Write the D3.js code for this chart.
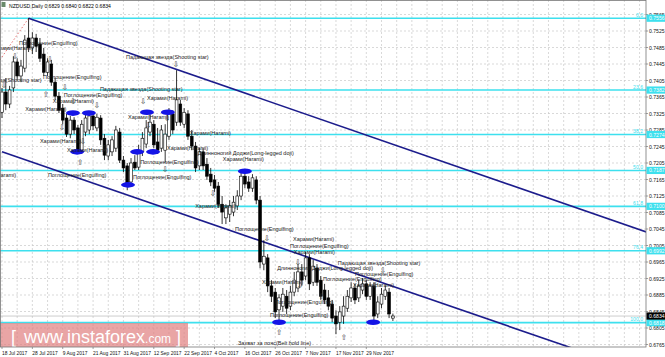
<!DOCTYPE html>
<html>
<head>
<meta charset="utf-8">
<script src="https://cdn.jsdelivr.net/npm/d3@7"></script>
<style>
  body { margin: 0; background: #fff; }
  svg { display: block; font-family: "Liberation Sans", Arial, sans-serif; }
</style>
</head>
<body>
<svg id="chart" width="665" height="357"></svg>
<script>
// NZDUSD daily, 18 Jul 2017 .. 8 Dec 2017 (one entry per bar)
const opens = [0.7328,0.7377,0.7348,0.7387,0.7450,0.7416,0.7435,0.7508,0.7484,0.7508,
  0.7493,0.7469,0.7425,0.7445,0.7401,0.7367,0.7338,0.7314,0.7275,0.7309,
  0.7290,0.7236,0.7280,0.7285,0.7319,0.7290,0.7314,0.7265,0.7222,0.7232,
  0.7241,0.7280,0.7212,0.7198,0.7159,0.7207,0.7195,0.7232,0.7251,0.7280,
  0.7299,0.7256,0.7241,0.7236,0.7270,0.7324,0.7304,0.7348,0.7299,0.7324,
  0.7270,0.7246,0.7198,0.7232,0.7202,0.7178,0.7164,0.7149,0.7105,0.7072,
  0.7081,0.7086,0.7101,0.7125,0.7173,0.7159,0.7144,0.7164,0.7115,0.6960,
  0.6975,0.6907,0.6892,0.6849,0.6858,0.6882,0.6858,0.6892,0.6902,0.6941,
  0.6931,0.6975,0.6916,0.6950,0.6921,0.6897,0.6878,0.6863,0.6834,0.6819,
  0.6834,0.6853,0.6878,0.6902,0.6878,0.6897,0.6912,0.6882,0.6907,0.6839,
  0.6863,0.6882,0.6892,0.6829];
const highs = [0.7387,0.7411,0.7392,0.7464,0.7459,0.7455,0.7515,0.7556,0.7522,0.7518,
  0.7508,0.7484,0.7459,0.7455,0.7411,0.7377,0.7348,0.7324,0.7319,0.7316,
  0.7297,0.7309,0.7324,0.7328,0.7326,0.7324,0.7321,0.7275,0.7261,0.7270,
  0.7295,0.7290,0.7222,0.7205,0.7217,0.7224,0.7249,0.7280,0.7309,0.7328,
  0.7309,0.7290,0.7297,0.7299,0.7338,0.7333,0.7430,0.7358,0.7338,0.7333,
  0.7285,0.7256,0.7241,0.7241,0.7217,0.7193,0.7176,0.7159,0.7125,0.7105,
  0.7115,0.7125,0.7139,0.7183,0.7188,0.7173,0.7178,0.7173,0.7125,0.7018,
  0.6984,0.6921,0.6902,0.6887,0.6902,0.6897,0.6907,0.6941,0.6960,0.6960,
  0.6989,0.6984,0.6970,0.6960,0.6931,0.6912,0.6897,0.6873,0.6848,0.6858,
  0.6882,0.6897,0.6916,0.6912,0.6921,0.6926,0.6921,0.6916,0.6916,0.6882,
  0.6902,0.6907,0.6902,0.6840];
const lows = [0.7314,0.7333,0.7338,0.7377,0.7406,0.7401,0.7425,0.7474,0.7469,0.7474,
  0.7450,0.7416,0.7416,0.7392,0.7358,0.7326,0.7299,0.7268,0.7265,0.7275,
  0.7227,0.7227,0.7270,0.7275,0.7285,0.7282,0.7249,0.7212,0.7212,0.7222,
  0.7232,0.7205,0.7183,0.7139,0.7149,0.7188,0.7188,0.7222,0.7241,0.7270,
  0.7241,0.7227,0.7232,0.7207,0.7261,0.7275,0.7295,0.7295,0.7290,0.7261,
  0.7236,0.7183,0.7188,0.7188,0.7164,0.7149,0.7135,0.7096,0.7057,0.7057,
  0.7062,0.7076,0.7091,0.7115,0.7144,0.7135,0.7135,0.7105,0.6950,0.6945,
  0.6892,0.6868,0.6829,0.6819,0.6844,0.6839,0.6848,0.6882,0.6892,0.6907,
  0.6921,0.6897,0.6907,0.6907,0.6873,0.6863,0.6848,0.6819,0.6790,0.6800,
  0.6815,0.6844,0.6868,0.6863,0.6868,0.6887,0.6873,0.6873,0.6819,0.6829,
  0.6853,0.6873,0.6829,0.6822];
const closes = [0.7377,0.7348,0.7382,0.7450,0.7416,0.7440,0.7503,0.7484,0.7508,0.7488,
  0.7459,0.7425,0.7450,0.7401,0.7367,0.7333,0.7309,0.7275,0.7309,0.7285,
  0.7236,0.7299,0.7314,0.7319,0.7295,0.7316,0.7261,0.7224,0.7249,0.7261,
  0.7285,0.7212,0.7193,0.7154,0.7205,0.7193,0.7236,0.7265,0.7290,0.7304,
  0.7249,0.7236,0.7285,0.7275,0.7324,0.7285,0.7358,0.7304,0.7328,0.7270,
  0.7246,0.7193,0.7232,0.7198,0.7173,0.7159,0.7144,0.7105,0.7086,0.7096,
  0.7101,0.7110,0.7125,0.7173,0.7154,0.7144,0.7169,0.7115,0.6965,0.6979,
  0.6907,0.6882,0.6844,0.6878,0.6887,0.6853,0.6892,0.6921,0.6941,0.6921,
  0.6975,0.6912,0.6955,0.6916,0.6882,0.6873,0.6858,0.6829,0.6815,0.6844,
  0.6858,0.6882,0.6902,0.6873,0.6907,0.6912,0.6882,0.6907,0.6834,0.6868,
  0.6887,0.6897,0.6839,0.6834];

const dateIdx = [0, 8, 16, 24, 32, 40, 48, 56, 64, 72, 80, 88, 96];
const dateLabels = ["18 Jul 2017", "28 Jul 2017", "9 Aug 2017", "21 Aug 2017", "31 Aug 2017",
  "12 Sep 2017", "22 Sep 2017", "4 Oct 2017", "16 Oct 2017", "26 Oct 2017",
  "7 Nov 2017", "17 Nov 2017", "29 Nov 2017"];
const priceTicks = [0.7565, 0.7525, 0.7485, 0.7445, 0.7405, 0.7365, 0.7325, 0.7285, 0.7245,
  0.7205, 0.7165, 0.7125, 0.7085, 0.7045, 0.7005, 0.6965, 0.6925, 0.6885, 0.6845, 0.6805, 0.6765];

// fibonacci retracement, drawn from the May low to the July high
const fibLevels = [0, 23.6, 38.2, 50.0, 61.8, 76.4, 100.0];
const fibHigh = 0.7556;
const fibLow = 0.6818;
const fibBase = [[-48, 0.6818], [7, 0.7556]];

// descending channel, [bar, price]
const upperLine = [[7, 0.7556], [170, 0.7037]];
const lowerLine = [[0, 0.7232], [150, 0.6757]];

// blue marks, [bar, price]
const ellipses = [[18.7, 0.7326], [22.9, 0.7326], [19.8, 0.7232], [33.2, 0.7152], [35.6, 0.7232],
  [39.8, 0.7232], [38.2, 0.7328], [43.7, 0.7328], [64.0, 0.7185], [73.0, 0.6819], [97.8, 0.6819]];

// candle pattern captions, [bar, price, text]
const patternText = [
  [-2.6, 0.7479, "Харами(Harami)"],
  [4.5, 0.7491, "Поглощение(Engulfing)"],
  [-11.3, 0.7401, "Падающая звезда(Shooting star)"],
  [10.8, 0.7408, "Поглощение(Engulfing)"],
  [16.3, 0.7365, "Поглощение(Engulfing)"],
  [13.4, 0.7350, "Харами(Harami)"],
  [6.1, 0.7331, "Харами(Harami)"],
  [10.0, 0.7253, "Харами(Harami)"],
  [17.1, 0.7232, "Харами(Harami)"],
  [12.1, 0.7171, "Поглощение(Engulfing)"],
  [-7.1, 0.7171, "Харами(Harami)"],
  [32.7, 0.7457, "Падающая звезда(Shooting star)"],
  [25.8, 0.7379, "Падающая звезда(Shooting star)"],
  [38.2, 0.7358, "Харами(Harami)"],
  [33.2, 0.7312, "Харами(Harami)"],
  [49.5, 0.7273, "Харами(Harami)"],
  [43.5, 0.7236, "Харами(Harami)"],
  [36.4, 0.7202, "Поглощение(Engulfing)"],
  [34.5, 0.7166, "Поглощение(Engulfing)"],
  [51.6, 0.7224, "Длинноногий Доджи(Long-legged doji)"],
  [58.2, 0.7210, "Харами(Harami)"],
  [50.9, 0.7096, "Харами(Harami)"],
  [61.4, 0.7040, "Поглощение(Engulfing)"],
  [76.7, 0.7016, "Харами(Harami)"],
  [75.9, 0.6999, "Поглощение(Engulfing)"],
  [76.9, 0.6984, "Харами(Harami)"],
  [72.5, 0.6945, "Длинноногий Доджи(Long-legged doji)"],
  [68.5, 0.6912, "Харами(Harami)"],
  [71.9, 0.6863, "Поглощение(Engulfing)"],
  [70.6, 0.6832, "Поглощение(Engulfing)"],
  [88.5, 0.6958, "Падающая звезда(Shooting star)"],
  [93.0, 0.6931, "Поглощение(Engulfing)"],
  [84.6, 0.6919, "Поглощение(Engulfing)"],
  [92.5, 0.6904, "Харами(Harami)"],
  [62.2, 0.6764, "Захват за пояс(Belt hold line)"]
];

// pattern arrows, [bar, price, glyph]
const arrows = [
  [3.4, 0.7464, "⇩"], [12.6, 0.7457, "⇩"], [0.5, 0.7392, "⇩"], [16.6, 0.7387, "⇩"],
  [11.6, 0.7370, "⇧"], [18.7, 0.7353, "⇩"], [25.0, 0.7345, "⇩"], [15.8, 0.7292, "⇩"],
  [21.3, 0.7256, "⇩"], [20.6, 0.7207, "⇧"], [45.8, 0.7445, "⇩"], [37.2, 0.7355, "⇩"],
  [38.5, 0.7297, "⇩"], [43.5, 0.7314, "⇩"], [26.9, 0.7241, "⇩"], [43.0, 0.7190, "⇩"],
  [55.6, 0.7132, "⇩"], [69.8, 0.7023, "⇩"], [78.0, 0.6965, "⇩"], [78.5, 0.6909, "⇩"],
  [73.0, 0.6793, "⇧"], [90.1, 0.6781, "⇧"], [100.4, 0.6945, "⇩"], [84.1, 0.6882, "⇧"],
  [98.3, 0.6909, "⇩"]
];

const lastPrice = 0.6834;
const header = "NZDUSD,Daily  0.6829 0.6840 0.6822 0.6834";

const plotRight = 646;
const plotBottom = 347;
const fs = 5.5;
const axisFs = 5.1;

const x = d3.scaleLinear().domain([0, 103]).range([2, 2 + 103 * 3.795]);
const y = d3.scaleLinear().domain([0.6765, 0.7565]).range([344.5, 14.5]);

const svg = d3.select("#chart");

svg.append("defs").append("clipPath").attr("id", "plot")
  .append("rect").attr("x", 0).attr("y", 0).attr("width", plotRight).attr("height", plotBottom);

const plot = svg.append("g").attr("clip-path", "url(#plot)");

// grid
plot.selectAll(".hg").data(priceTicks).enter().append("line")
  .attr("x1", 0).attr("x2", plotRight)
  .attr("y1", d => y(d)).attr("y2", d => y(d))
  .attr("stroke", "#c8c8c8").attr("stroke-width", 0.7).attr("stroke-dasharray", "2,2");
plot.selectAll(".vg").data(d3.range(0, 172, 4)).enter().append("line")
  .attr("x1", d => x(d)).attr("x2", d => x(d))
  .attr("y1", 0).attr("y2", plotBottom)
  .attr("stroke", "#c8c8c8").attr("stroke-width", 0.7).attr("stroke-dasharray", "2,2");

// watermark
svg.append("rect").attr("x", 0).attr("y", 323).attr("width", 188).attr("height", plotBottom - 323)
  .attr("fill", "#df7f7f").attr("opacity", 0.7);
const wm = svg.append("text").attr("y", 343).attr("fill", "#fff");
wm.append("tspan").attr("x", 11).attr("font-size", 18).text("[");
wm.append("tspan").attr("x", 24).attr("font-size", 18).text("www.instaforex");
wm.append("tspan").attr("font-size", 12).text(".com");
wm.append("tspan").attr("x", 176).attr("font-size", 18).text("]");

// fibonacci levels
const fibPrice = lv => fibHigh - lv / 100 * (fibHigh - fibLow);
plot.selectAll(".fib").data(fibLevels).enter().append("line")
  .attr("x1", 0).attr("x2", plotRight)
  .attr("y1", d => y(fibPrice(d))).attr("y2", d => y(fibPrice(d)))
  .attr("stroke", "#3de0ee").attr("stroke-width", 1.6);
plot.selectAll(".fibt").data(fibLevels).enter().append("text")
  .attr("x", plotRight - 3).attr("y", d => y(fibPrice(d)) - 1.5)
  .attr("text-anchor", "end").attr("font-size", axisFs).attr("fill", "#3de0ee")
  .text(d => d.toFixed(1));

// current bid line
plot.append("line").attr("x1", 0).attr("x2", plotRight)
  .attr("y1", y(lastPrice)).attr("y2", y(lastPrice))
  .attr("stroke", "#b8b8b8").attr("stroke-width", 0.7);

// fib base and channel
plot.append("line")
  .attr("x1", x(fibBase[0][0])).attr("y1", y(fibBase[0][1]))
  .attr("x2", x(fibBase[1][0])).attr("y2", y(fibBase[1][1]))
  .attr("stroke", "#e05050").attr("stroke-width", 0.8).attr("stroke-dasharray", "1.5,2");
[upperLine, lowerLine].forEach(l => {
  plot.append("line")
    .attr("x1", x(l[0][0])).attr("y1", y(l[0][1]))
    .attr("x2", x(l[1][0])).attr("y2", y(l[1][1]))
    .attr("stroke", "#1c1c8c").attr("stroke-width", 1.6);
});

// candles
const bars = opens.map((o, i) => ({ i, o, h: highs[i], l: lows[i], c: closes[i] }));
const cg = plot.selectAll(".candle").data(bars).enter().append("g");
cg.append("line")
  .attr("x1", d => x(d.i)).attr("x2", d => x(d.i))
  .attr("y1", d => y(d.h)).attr("y2", d => y(d.l))
  .attr("stroke", "#000").attr("stroke-width", 0.8);
cg.append("rect")
  .attr("x", d => x(d.i) - 1.4).attr("width", 2.8)
  .attr("y", d => y(Math.max(d.o, d.c)))
  .attr("height", d => Math.max(0.8, Math.abs(y(d.o) - y(d.c))))
  .attr("fill", d => d.c >= d.o ? "#fff" : "#000")
  .attr("stroke", "#000").attr("stroke-width", 0.6);

// blue marks
plot.selectAll(".ell").data(ellipses).enter().append("ellipse")
  .attr("cx", d => x(d[0])).attr("cy", d => y(d[1]))
  .attr("rx", 7).attr("ry", 2.8).attr("fill", "#1414e6");

// pattern captions and arrows
plot.selectAll(".pt").data(patternText).enter().append("text")
  .attr("x", d => x(d[0])).attr("y", d => y(d[1]))
  .attr("font-size", fs).attr("fill", "#1a1a1a")
  .text(d => d[2]);
plot.selectAll(".ar").data(arrows).enter().append("text")
  .attr("x", d => x(d[0])).attr("y", d => y(d[1]) + 2.5)
  .attr("text-anchor", "middle").attr("font-size", 7.5)
  .attr("font-family", "DejaVu Sans").attr("fill", "#333")
  .text(d => d[2]);

// header
svg.append("path").attr("d", "M1.5,2 h4 v5 h-4 z").attr("fill", "#6a8a6a");
svg.append("text").attr("x", 9).attr("y", 8).attr("font-size", axisFs).attr("fill", "#000").text(header);

// frame
svg.append("rect").attr("x", 0.5).attr("y", 0.5).attr("width", plotRight - 0.5).attr("height", plotBottom - 0.5)
  .attr("fill", "none").attr("stroke", "#777").attr("stroke-width", 0.8);

// price axis
svg.selectAll(".pl").data(priceTicks).enter().append("text")
  .attr("x", plotRight + 3).attr("y", d => y(d) + 2)
  .attr("font-size", axisFs).attr("fill", "#111")
  .text(d => d.toFixed(4));
svg.selectAll(".pt2").data(priceTicks).enter().append("line")
  .attr("x1", plotRight).attr("x2", plotRight + 2)
  .attr("y1", d => y(d)).attr("y2", d => y(d)).attr("stroke", "#777").attr("stroke-width", 0.7);

const fibBox = svg.selectAll(".fb").data(fibLevels).enter().append("g");
fibBox.append("rect").attr("x", plotRight + 0.5).attr("y", d => y(fibPrice(d)) - 3.6)
  .attr("width", 19).attr("height", 7.2).attr("fill", "#3de0ee");
fibBox.append("text").attr("x", plotRight + 3).attr("y", d => y(fibPrice(d)) + 2)
  .attr("font-size", axisFs).attr("fill", "#fff").text(d => fibPrice(d).toFixed(4));

svg.append("rect").attr("x", plotRight + 0.5).attr("y", y(lastPrice) - 3.6)
  .attr("width", 19).attr("height", 7.2).attr("fill", "#000");
svg.append("text").attr("x", plotRight + 3).attr("y", y(lastPrice) + 2)
  .attr("font-size", axisFs).attr("fill", "#fff").text(lastPrice.toFixed(4));

// time axis
svg.selectAll(".dl").data(dateIdx).enter().append("text")
  .attr("x", d => x(d)).attr("y", 354.5)
  .attr("font-size", 4.9).attr("fill", "#111")
  .text((d, k) => dateLabels[k]);
svg.selectAll(".dt").data(dateIdx).enter().append("line")
  .attr("x1", d => x(d)).attr("x2", d => x(d))
  .attr("y1", plotBottom).attr("y2", plotBottom + 2).attr("stroke", "#777").attr("stroke-width", 0.7);
</script>
</body>
</html>
